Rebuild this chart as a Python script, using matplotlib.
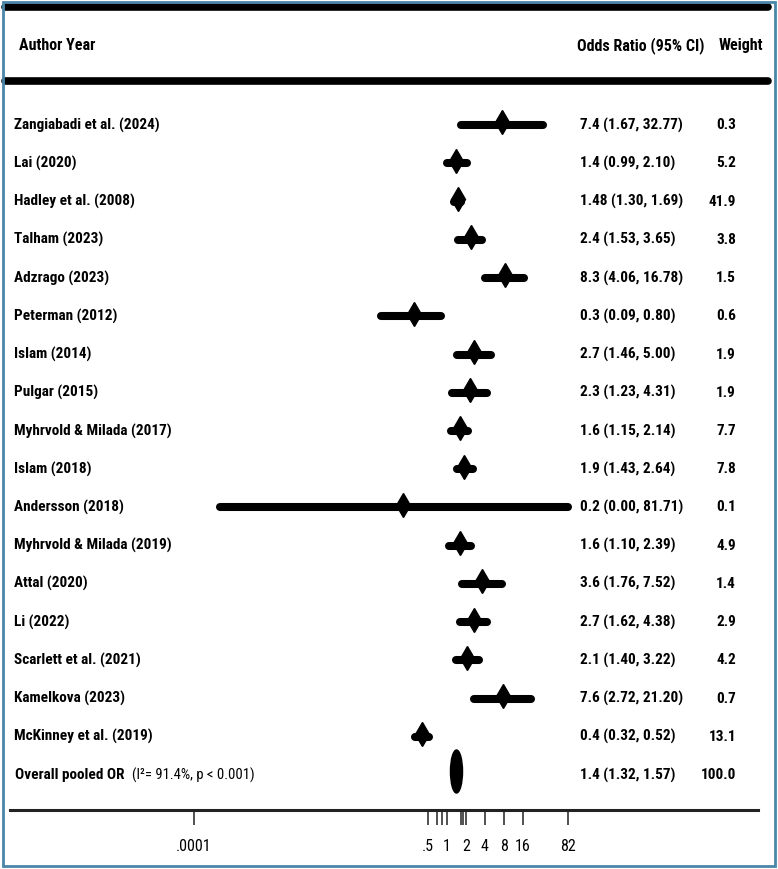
import numpy as np
import matplotlib.pyplot as plt
from matplotlib.path import Path
from matplotlib.transforms import Affine2D, blended_transform_factory
from matplotlib.patches import Rectangle
from matplotlib.ticker import NullFormatter

plt.rcParams['font.family'] = ['Liberation Sans Narrow', 'Arial Narrow', 'Roboto Condensed',
                               'PT Sans Narrow', 'Archivo Narrow', 'DejaVu Sans']

# study data
authors = ["Zangiabadi et al. (2024)", "Lai (2020)", "Hadley et al. (2008)", "Talham (2023)",
           "Adzrago (2023)", "Peterman (2012)", "Islam (2014)", "Pulgar (2015)",
           "Myhrvold & Milada (2017)", "Islam (2018)", "Andersson (2018)",
           "Myhrvold & Milada (2019)", "Attal (2020)", "Li (2022)", "Scarlett et al. (2021)",
           "Kamelkova (2023)", "McKinney et al. (2019)"]
odds = [7.4, 1.4, 1.48, 2.4, 8.3, 0.3, 2.7, 2.3, 1.6, 1.9, 0.2, 1.6, 3.6, 2.7, 2.1, 7.6, 0.4]
ci_low = [1.67, 0.99, 1.30, 1.53, 4.06, 0.09, 1.46, 1.23, 1.15, 1.43, 0.00026, 1.10, 1.76,
          1.62, 1.40, 2.72, 0.32]
ci_high = [32.77, 2.10, 1.69, 3.65, 16.78, 0.80, 5.00, 4.31, 2.14, 2.64, 81.71, 2.39, 7.52,
           4.38, 3.22, 21.20, 0.52]
weights = [0.3, 5.2, 41.9, 3.8, 1.5, 0.6, 1.9, 1.9, 7.7, 7.8, 0.1, 4.9, 1.4, 2.9, 4.2, 0.7, 13.1]

pooled_or, pooled_low, pooled_high, pooled_weight = 1.4, 1.32, 1.57, 100.0
i2_text = "(I\u00b2= 91.4%, p < 0.001)"

tick_vals = [0.0001, 0.5, 1, 2, 4, 8, 16, 82]
tick_labels = [".0001", ".5", "1", "2", "4", "8", "16", "82"]
extra_ticks = [0.71, 0.83, 1.67, 1.83]

W, H = 778, 869
FS = 11
fig = plt.figure(figsize=(W / 100, H / 100), dpi=100)
ax = fig.add_axes([10 / W, (H - 810) / H, 748 / W, 810 / H])
ax.set_xscale('log', base=2)
ax.set_xlim(2 ** ((10 - 446.8) / 19.06), 2 ** ((758 - 446.8) / 19.06))
ax.set_ylim(18.91, -2.27)

for s in ['top', 'left', 'right']:
    ax.spines[s].set_visible(False)
ax.spines['bottom'].set_linewidth(2.2)
ax.spines['bottom'].set_color('#222222')
ax.set_yticks([])

ax.set_xticks(tick_vals, tick_labels)
ax.set_xticks(extra_ticks, minor=True)
ax.xaxis.set_minor_formatter(NullFormatter())
ax.tick_params(axis='x', which='both', direction='out', length=11, width=1.1,
               pad=10, labelsize=FS + 0.5, color='#222222')

rows = np.arange(1, len(authors) + 1)

# CI lines and point markers
for r, o, lo, hi in zip(rows, odds, ci_low, ci_high):
    ax.plot([lo, hi], [r, r], color='black', lw=5.8, solid_capstyle='round')
    ax.plot(o, r - 0.07, marker='d', ms=12.5, color='black', mec='black')

# pooled estimate as a tall ellipse
ell = Path.unit_circle().transformed(Affine2D().scale(0.28, 1.0))
ax.plot(pooled_or, 17.9, marker=ell, ms=31, color='black', mec='black')

tr = blended_transform_factory(fig.transFigure, ax.transData)

for r, a, o, lo, hi, w in zip(rows, authors, odds, ci_low, ci_high, weights):
    ax.text(14 / W, r, a, transform=tr, fontsize=FS, fontweight='bold', va='center', ha='left')
    ax.text(580 / W, r, f"{o} ({lo:.2f}, {hi:.2f})", transform=tr, fontsize=FS,
            fontweight='bold', va='center', ha='left')
    ax.text(736 / W, r, f"{w:.1f}", transform=tr, fontsize=FS, fontweight='bold',
            va='center', ha='right')

yo = len(authors) + 1
t = ax.text(15 / W, yo, "Overall pooled OR  ", transform=tr, fontsize=FS,
            fontweight='bold', va='center', ha='left')
fig.canvas.draw()
bb = t.get_window_extent()
ax.text(bb.x1 / W, yo, i2_text, transform=tr, fontsize=FS - 0.5, va='center', ha='left')
ax.text(580 / W, yo, f"{pooled_or} ({pooled_low:.2f}, {pooled_high:.2f})", transform=tr,
        fontsize=FS, fontweight='bold', va='center', ha='left')
ax.text(736 / W, yo, f"{pooled_weight:.1f}", transform=tr, fontsize=FS, fontweight='bold',
        va='center', ha='right')

# header
ax.text(19 / W, -1.09, "Author Year", transform=tr, fontsize=FS + 0.5, fontweight='bold',
        va='center', ha='left')
ax.text(577 / W, -1.09, "Odds Ratio (95% CI)", transform=tr, fontsize=FS + 0.5,
        fontweight='bold', va='center', ha='left')
ax.text(763 / W, -1.09, "Weight", transform=tr, fontsize=FS + 0.5, fontweight='bold',
        va='center', ha='right')

for yl in [-2.09, -0.16]:
    ax.plot([5 / W, 768 / W], [yl, yl], transform=tr, color='black', lw=5.5,
            solid_capstyle='round', clip_on=False)

fig.patches.append(Rectangle((2.5 / W, 3 / H), 772 / W, 864 / H, transform=fig.transFigure,
                             fill=False, ec='#4a86a8', lw=2))

fig.savefig('out.png', dpi=100)
